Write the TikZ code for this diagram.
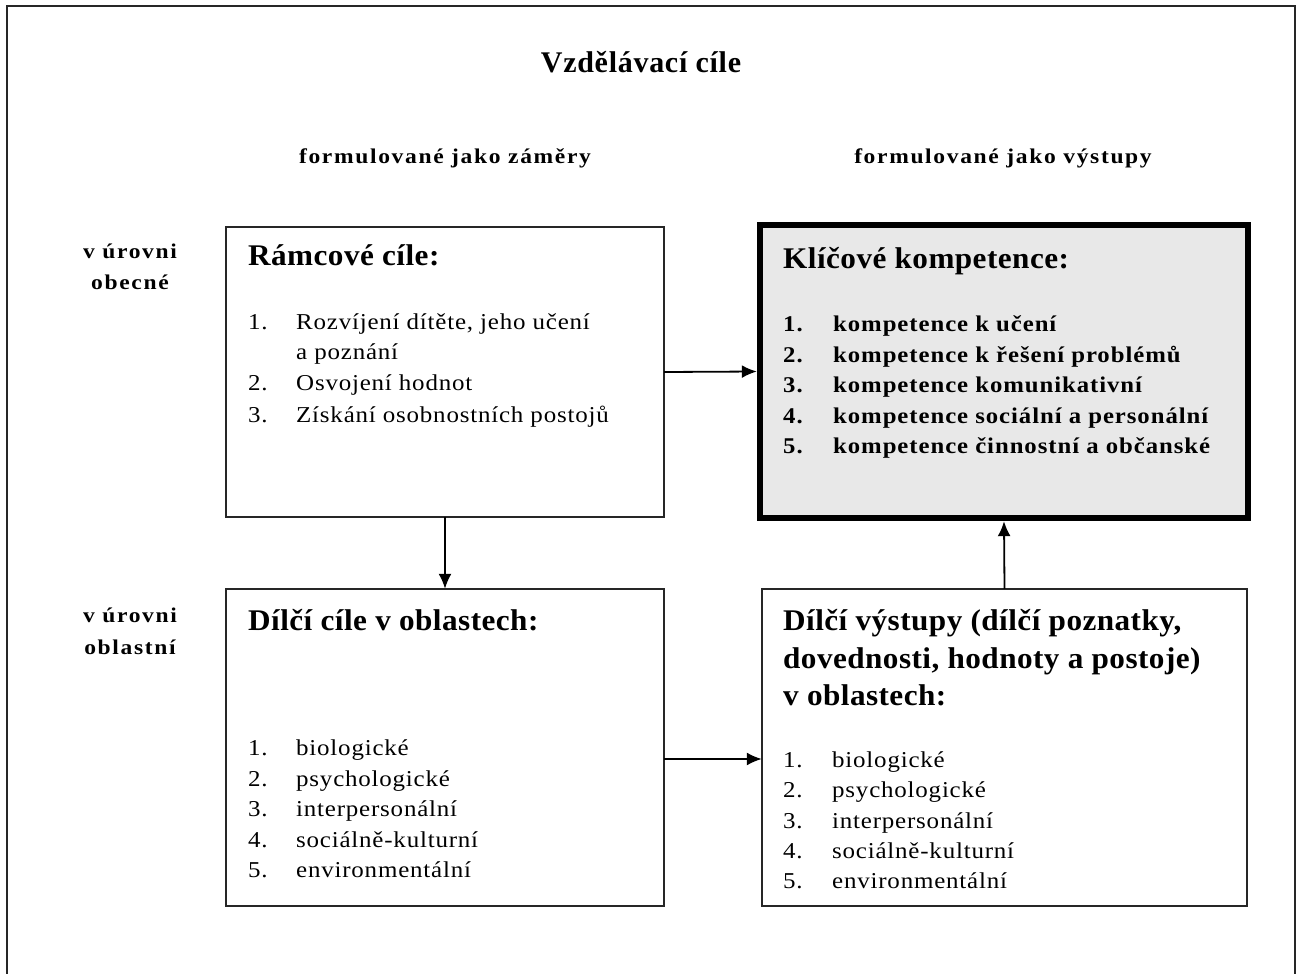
\documentclass[tikz,border=0pt]{standalone}
\usepackage{fontspec}
\setmainfont{Liberation Serif}
\newfontfamily\lsTitle[LetterSpace=2.4]{Liberation Serif}
\newfontfamily\lsHead[FakeStretch=1.04,LetterSpace=1.5]{Liberation Serif}
\newfontfamily\lsCol[FakeStretch=1.12,LetterSpace=7.9]{Liberation Serif}
\newfontfamily\lsItem[FakeStretch=1.1,LetterSpace=3.5]{Liberation Serif}
\newfontfamily\lsBItem[FakeStretch=1.1,LetterSpace=4.2]{Liberation Serif}
\usetikzlibrary{arrows.meta}
\tikzset{
  frame/.style={draw=black!85, line width=2.5pt},
  box/.style={draw=black!85, line width=2pt},
  keybox/.style={draw=black, line width=6pt, fill=black!9},
  conn/.style={draw=black, line width=1.8pt, -{Latex[length=15pt,width=13pt]}},
  title/.style={font=\lsTitle\bfseries\fontsize{30}{34}\selectfont, anchor=base, inner sep=0},
  colhead/.style={font=\lsCol\bfseries\fontsize{21}{24}\selectfont, anchor=base, inner sep=0},
  rowlab/.style={font=\lsCol\bfseries\fontsize{21}{24}\selectfont, anchor=base, inner sep=0},
  head/.style={font=\lsHead\bfseries\fontsize{30}{34}\selectfont, anchor=base west, inner sep=0},
  item/.style={font=\lsItem\fontsize{22.7}{26}\selectfont, anchor=base west, inner sep=0},
  bitem/.style={font=\lsBItem\bfseries\fontsize{22.5}{26}\selectfont, anchor=base west, inner sep=0},
}
\begin{document}
\begin{tikzpicture}[x=1pt,y=-1pt]
\useasboundingbox (0,0) rectangle (1298,974);
\fill[white] (0,0) rectangle (1298,974);
% outer frame (open at bottom)
\draw[frame] (7,990) -- (7,6) -- (1295,6) -- (1295,990);

\node[title] (t) at (641,73) {Vzdělávací cíle};
\node[colhead] (c1) at (445,163) {formulované jako záměry};
\node[colhead] (c2) at (1003,163) {formulované jako výstupy};
\node[rowlab] (r1a) at (130,258) {v úrovni};
\node[rowlab] (r1b) at (130,289) {obecné};
\node[rowlab] (r2a) at (130,622) {v úrovni};
\node[rowlab] (r2b) at (130,654) {oblastní};

% boxes
\draw[box] (226,227) rectangle (664,517);
\draw[keybox] (760,225) rectangle (1248,518);
\draw[box] (226,589) rectangle (664,906);
\draw[box] (762,589) rectangle (1247,906);

\node[minimum width=438pt, minimum height=290pt, inner sep=0] (ram) at (445,372) {};
\node[minimum width=494pt, minimum height=299pt, inner sep=0] (key) at (1004,371.5) {};
\node[minimum width=438pt, minimum height=317pt, inner sep=0] (dc) at (445,747.5) {};
\node[minimum width=485pt, minimum height=317pt, inner sep=0] (dv) at (1004.5,747.5) {};

% box 1 text
\node[head] (h1) at (248,265) {Rámcové cíle:};
\node[item] (n11) at (248,329) {1.};
\node[item] (i11) at (296,329) {Rozvíjení dítěte, jeho učení};
\node[item] (i11b) at (296,359) {a poznání};
\node[item] (n12) at (248,390) {2.};
\node[item] (i12) at (296,390) {Osvojení hodnot};
\node[item] (n13) at (248,422) {3.};
\node[item] (i13) at (296,422) {Získání osobnostních postojů};

% key box text
\node[head] (h2) at (783,268) {Klíčové kompetence:};
\node[bitem] (n21) at (783,331) {1.};
\node[bitem] (i21) at (833,331) {kompetence k učení};
\node[bitem] (n22) at (783,362) {2.};
\node[bitem] (i22) at (833,362) {kompetence k řešení problémů};
\node[bitem] (n23) at (783,392) {3.};
\node[bitem] (i23) at (833,392) {kompetence komunikativní};
\node[bitem] (n24) at (783,423) {4.};
\node[bitem] (i24) at (833,423) {kompetence sociální a personální};
\node[bitem] (n25) at (783,453) {5.};
\node[bitem] (i25) at (833,453) {kompetence činnostní a občanské};

% box 3 text
\node[head] (h3) at (248,630) {Dílčí cíle v oblastech:};
\node[item] (n31) at (248,755) {1.};
\node[item] (i31) at (296,755) {biologické};
\node[item] (n32) at (248,786) {2.};
\node[item] (i32) at (296,786) {psychologické};
\node[item] (n33) at (248,816) {3.};
\node[item] (i33) at (296,816) {interpersonální};
\node[item] (n34) at (248,847) {4.};
\node[item] (i34) at (296,847) {sociálně-kulturní};
\node[item] (n35) at (248,877) {5.};
\node[item] (i35) at (296,877) {environmentální};

% box 4 text
\node[head] (h4a) at (783,630) {Dílčí výstupy (dílčí poznatky,};
\node[head] (h4b) at (783,668) {dovednosti, hodnoty a postoje)};
\node[head] (h4c) at (783,705) {v oblastech:};
\node[item] (n41) at (783,767) {1.};
\node[item] (i41) at (832,767) {biologické};
\node[item] (n42) at (783,797) {2.};
\node[item] (i42) at (832,797) {psychologické};
\node[item] (n43) at (783,828) {3.};
\node[item] (i43) at (832,828) {interpersonální};
\node[item] (n44) at (783,858) {4.};
\node[item] (i44) at (832,858) {sociálně-kulturní};
\node[item] (n45) at (783,888) {5.};
\node[item] (i45) at (832,888) {environmentální};

% connectors
\draw[conn] (ram.east) -- (key.west);
\draw[conn] (ram.south) -- (dc.north);
\draw[conn] (dc.east |- 0,759) -- (dv.west |- 0,759);
\draw[conn] (dv.north) -- (key.south);
\end{tikzpicture}
\end{document}
